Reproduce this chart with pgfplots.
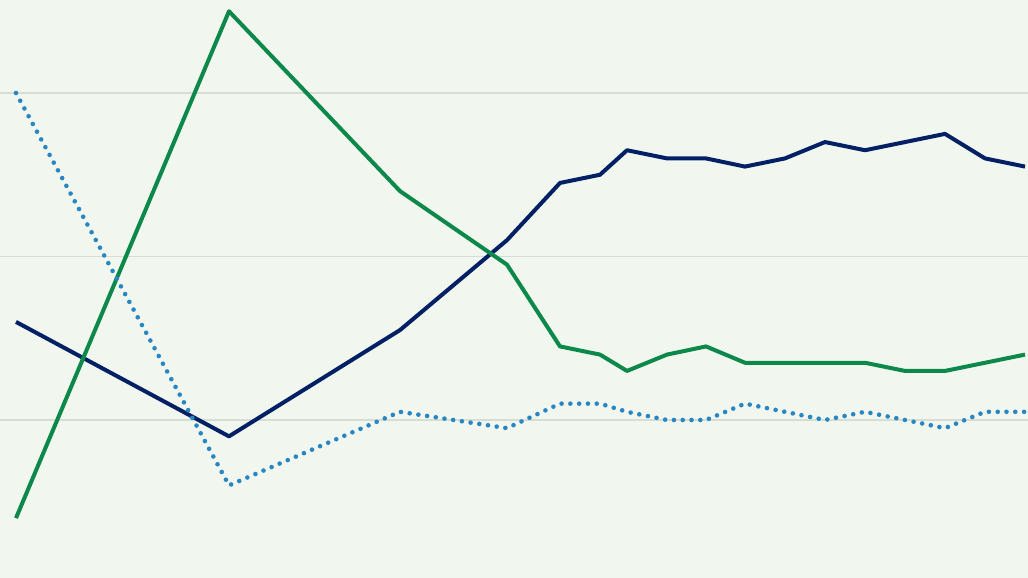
\documentclass[border=0pt]{standalone}
\usepackage{pgfplots}
\pgfplotsset{compat=1.18}
\definecolor{bgc}{RGB}{241,247,239}
\definecolor{gridc}{RGB}{214,221,211}
\definecolor{navy}{RGB}{4,32,100}
\definecolor{grn}{RGB}{12,136,74}
\definecolor{dotb}{RGB}{40,134,194}
\begin{document}
\begin{tikzpicture}
\begin{axis}[name=ax,
  scale only axis, width=1028pt, height=578pt,
  xmin=0, xmax=1028, ymin=0.67, ymax=71.38,
  axis background/.style={fill=bgc},
  axis line style={draw=none},
  xtick=\empty, ytick={20,40,60}, yticklabels={},
  major tick length=0pt,
  ymajorgrids, grid style={gridc, line width=1.8pt},
  clip=false,
]
\addplot[navy, line width=4pt, line join=round] coordinates {
(16,32) (229,18) (400,31) (507,42) (560,49) (600,50) (627,53) (667,52) (706,52) (745,51) (785,52) (825,54) (865,53) (905,54) (945,55) (985,52) (1025,51)};
\addplot[grn, line width=4pt, line join=round] coordinates {
(16,8) (229,70) (400,48) (507,39) (560,29) (600,28) (627,26) (667,28) (706,29) (745,27) (785,27) (825,27) (865,27) (905,26) (945,26) (985,27) (1025,28)};
\addplot[dotb, line width=4.6pt, line cap=round, dash pattern=on 0pt off 8.8pt, line join=round] coordinates {
(16,60) (229,12) (400,21) (507,19) (560,22) (600,22) (627,21) (667,20) (706,20) (745,22) (785,21) (825,20) (865,21) (905,20) (945,19) (985,21) (1025,21)};
\end{axis}
\pgfresetboundingbox
\path[use as bounding box] (ax.south west) rectangle (ax.north east);
\end{tikzpicture}
\end{document}
